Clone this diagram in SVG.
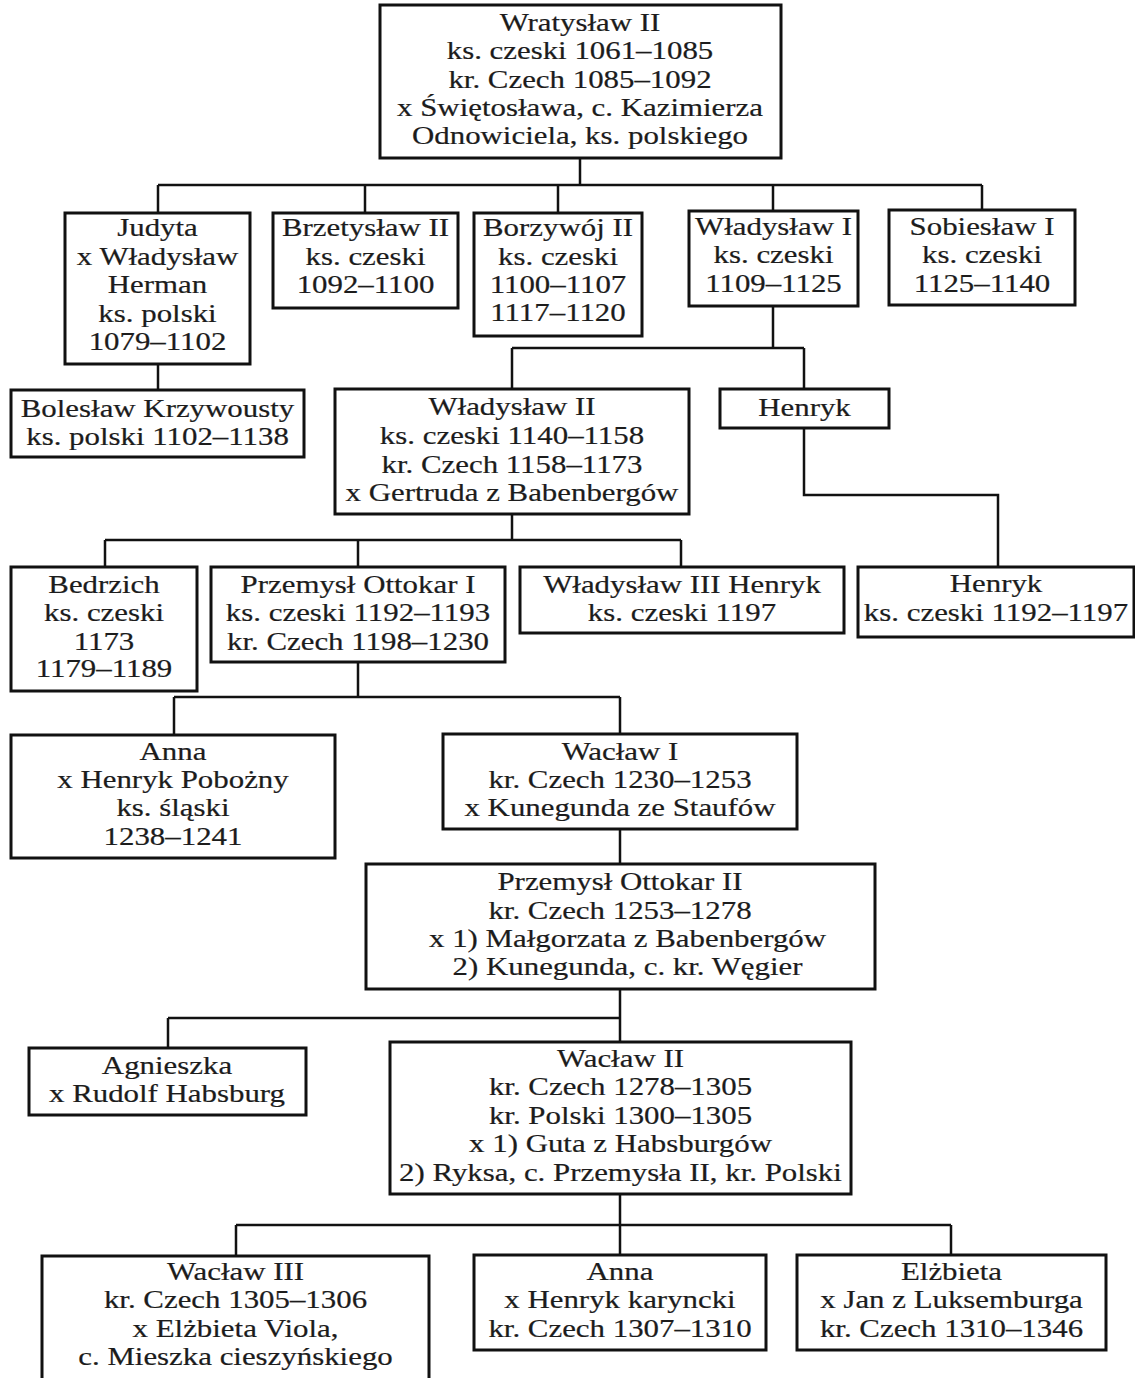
<svg xmlns="http://www.w3.org/2000/svg" width="1135" height="1378" viewBox="0 0 1135 1378">
<style>
.box{fill:#fff;stroke:#111;stroke-width:3}
.t{font-family:"Liberation Serif","Times New Roman",serif;font-size:24.5px;fill:#1c1c1c;stroke:#1c1c1c;stroke-width:0.2;text-anchor:middle}
.c{fill:none;stroke:#111;stroke-width:2.5}
</style>
<rect width="1135" height="1378" fill="#fff"/>
<g id="connectors" class="c">
<path d="M580 158V185M158 185H982M158 185V213M365 185V213M558 185V213M773 185V211M982 185V210"/>
<path d="M158 364V390"/>
<path d="M773 306V348M512 348H804M512 348V389M804 348V389"/>
<path d="M804 428V495H998V567"/>
<path d="M512 514V540M105 540H681M105 540V567M358 540V567M681 540V567"/>
<path d="M358 662V697M174 697H620M174 697V735M620 697V734"/>
<path d="M620 829V864"/>
<path d="M620 989V1042M168 1018H620M168 1018V1048"/>
<path d="M620 1194V1225M236 1225H951M236 1225V1256M620 1225V1255M951 1225V1255"/>
</g>
<g id="wratyslaw2"><rect class="box" x="380" y="5" width="401" height="153"/>
<text class="t" transform="translate(580 0) scale(1.26 1)"><tspan x="0" y="31">Wratysław II</tspan><tspan x="0" y="59">ks. czeski 1061–1085</tspan><tspan x="0" y="88">kr. Czech 1085–1092</tspan><tspan x="0" y="116">x Świętosława, c. Kazimierza</tspan><tspan x="0" y="144">Odnowiciela, ks. polskiego</tspan></text></g>
<g id="judyta"><rect class="box" x="65" y="213" width="185" height="151"/>
<text class="t" transform="translate(157.5 0) scale(1.26 1)"><tspan x="0" y="236">Judyta</tspan><tspan x="0" y="265">x Władysław</tspan><tspan x="0" y="293">Herman</tspan><tspan x="0" y="322">ks. polski</tspan><tspan x="0" y="350">1079–1102</tspan></text></g>
<g id="brzetyslaw2"><rect class="box" x="273" y="213" width="185" height="95"/>
<text class="t" transform="translate(365.5 0) scale(1.26 1)"><tspan x="0" y="236">Brzetysław II</tspan><tspan x="0" y="265">ks. czeski</tspan><tspan x="0" y="293">1092–1100</tspan></text></g>
<g id="borzywoj2"><rect class="box" x="474" y="213" width="168" height="123"/>
<text class="t" transform="translate(558 0) scale(1.26 1)"><tspan x="0" y="236">Borzywój II</tspan><tspan x="0" y="265">ks. czeski</tspan><tspan x="0" y="293">1100–1107</tspan><tspan x="0" y="321">1117–1120</tspan></text></g>
<g id="wladyslaw1"><rect class="box" x="689" y="211" width="169" height="95"/>
<text class="t" transform="translate(773.5 0) scale(1.26 1)"><tspan x="0" y="235">Władysław I</tspan><tspan x="0" y="263">ks. czeski</tspan><tspan x="0" y="292">1109–1125</tspan></text></g>
<g id="sobieslaw1"><rect class="box" x="889" y="210" width="186" height="95"/>
<text class="t" transform="translate(982 0) scale(1.26 1)"><tspan x="0" y="235">Sobiesław I</tspan><tspan x="0" y="263">ks. czeski</tspan><tspan x="0" y="292">1125–1140</tspan></text></g>
<g id="boleslaw"><rect class="box" x="11" y="390" width="293" height="67"/>
<text class="t" transform="translate(157.5 0) scale(1.26 1)"><tspan x="0" y="417">Bolesław Krzywousty</tspan><tspan x="0" y="445">ks. polski 1102–1138</tspan></text></g>
<g id="wladyslaw2"><rect class="box" x="335" y="389" width="354" height="125"/>
<text class="t" transform="translate(512 0) scale(1.26 1)"><tspan x="0" y="415">Władysław II</tspan><tspan x="0" y="444">ks. czeski 1140–1158</tspan><tspan x="0" y="473">kr. Czech 1158–1173</tspan><tspan x="0" y="501">x Gertruda z Babenbergów</tspan></text></g>
<g id="henryk1"><rect class="box" x="720" y="389" width="169" height="39"/>
<text class="t" transform="translate(804.5 0) scale(1.26 1)"><tspan x="0" y="416">Henryk</tspan></text></g>
<g id="bedrzich"><rect class="box" x="11" y="567" width="186" height="124"/>
<text class="t" transform="translate(104 0) scale(1.26 1)"><tspan x="0" y="593">Bedrzich</tspan><tspan x="0" y="621">ks. czeski</tspan><tspan x="0" y="650">1173</tspan><tspan x="0" y="677">1179–1189</tspan></text></g>
<g id="przemysl1"><rect class="box" x="211" y="567" width="294" height="95"/>
<text class="t" transform="translate(358 0) scale(1.26 1)"><tspan x="0" y="593">Przemysł Ottokar I</tspan><tspan x="0" y="621">ks. czeski 1192–1193</tspan><tspan x="0" y="650">kr. Czech 1198–1230</tspan></text></g>
<g id="wladyslaw3"><rect class="box" x="520" y="567" width="324" height="66"/>
<text class="t" transform="translate(682 0) scale(1.26 1)"><tspan x="0" y="593">Władysław III Henryk</tspan><tspan x="0" y="621">ks. czeski 1197</tspan></text></g>
<g id="henryk2"><rect class="box" x="858" y="567" width="276" height="70"/>
<text class="t" transform="translate(996 0) scale(1.26 1)"><tspan x="0" y="592">Henryk</tspan><tspan x="0" y="621">ks. czeski 1192–1197</tspan></text></g>
<g id="anna1"><rect class="box" x="11" y="735" width="324" height="123"/>
<text class="t" transform="translate(173 0) scale(1.26 1)"><tspan x="0" y="760">Anna</tspan><tspan x="0" y="788">x Henryk Pobożny</tspan><tspan x="0" y="816">ks. śląski</tspan><tspan x="0" y="845">1238–1241</tspan></text></g>
<g id="waclaw1"><rect class="box" x="443" y="734" width="354" height="95"/>
<text class="t" transform="translate(620 0) scale(1.26 1)"><tspan x="0" y="760">Wacław I</tspan><tspan x="0" y="788">kr. Czech 1230–1253</tspan><tspan x="0" y="816">x Kunegunda ze Staufów</tspan></text></g>
<g id="przemysl2"><rect class="box" x="366" y="864" width="509" height="125"/>
<text class="t" transform="translate(620 0) scale(1.26 1)"><tspan x="0" y="890">Przemysł Ottokar II</tspan><tspan x="0" y="919">kr. Czech 1253–1278</tspan><tspan x="6" y="947">x 1) Małgorzata z Babenbergów</tspan><tspan x="6" y="975">2) Kunegunda, c. kr. Węgier</tspan></text></g>
<g id="agnieszka"><rect class="box" x="29" y="1048" width="277" height="67"/>
<text class="t" transform="translate(167 0) scale(1.26 1)"><tspan x="0" y="1074">Agnieszka</tspan><tspan x="0" y="1102">x Rudolf Habsburg</tspan></text></g>
<g id="waclaw2"><rect class="box" x="390" y="1042" width="461" height="152"/>
<text class="t" transform="translate(620.5 0) scale(1.26 1)"><tspan x="0" y="1067">Wacław II</tspan><tspan x="0" y="1095">kr. Czech 1278–1305</tspan><tspan x="0" y="1124">kr. Polski 1300–1305</tspan><tspan x="0" y="1152">x 1) Guta z Habsburgów</tspan><tspan x="0" y="1181">2) Ryksa, c. Przemysła II, kr. Polski</tspan></text></g>
<g id="waclaw3"><rect class="box" x="42" y="1256" width="387" height="130"/>
<text class="t" transform="translate(235.5 0) scale(1.26 1)"><tspan x="0" y="1280">Wacław III</tspan><tspan x="0" y="1308">kr. Czech 1305–1306</tspan><tspan x="0" y="1337">x Elżbieta Viola,</tspan><tspan x="0" y="1365">c. Mieszka cieszyńskiego</tspan></text></g>
<g id="anna2"><rect class="box" x="474" y="1255" width="292" height="95"/>
<text class="t" transform="translate(620 0) scale(1.26 1)"><tspan x="0" y="1280">Anna</tspan><tspan x="0" y="1308">x Henryk karyncki</tspan><tspan x="0" y="1337">kr. Czech 1307–1310</tspan></text></g>
<g id="elzbieta"><rect class="box" x="797" y="1255" width="309" height="95"/>
<text class="t" transform="translate(951.5 0) scale(1.26 1)"><tspan x="0" y="1280">Elżbieta</tspan><tspan x="0" y="1308">x Jan z Luksemburga</tspan><tspan x="0" y="1337">kr. Czech 1310–1346</tspan></text></g>
</svg>
